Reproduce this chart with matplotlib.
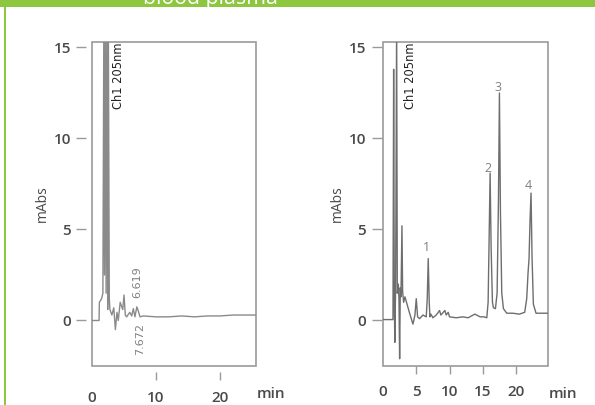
import matplotlib
matplotlib.use("Agg")
import matplotlib.pyplot as plt
from matplotlib.patches import Rectangle

# chromatogram traces (time in min, signal in mAbs)
left_t = [0, 1.1, 1.15, 1.5, 1.7, 1.85, 1.95, 2.1, 2.2, 2.35, 2.45, 2.55, 2.7, 2.8,
          3.1, 3.4, 3.65, 3.9, 4.1, 4.4, 4.8, 5.0, 5.2, 5.4, 5.9, 6.2, 6.45, 6.7,
          7.0, 7.2, 7.5, 8.0, 10, 12, 14, 16, 18, 20, 22, 24, 25.6]
left_v = [0, 0, 1.0, 1.2, 1.5, 16.5, 2.5, 16.5, 1.5, 16.5, 0.6, 16.5, 1.2, 0.6,
          0.3, 0.7, -0.5, 0.45, 0.0, 1.0, 0.6, 1.4, 0.3, 0.2, 0.45, 0.25, 0.65, 0.2,
          0.75, 0.55, 0.2, 0.25, 0.2, 0.2, 0.25, 0.2, 0.25, 0.25, 0.3, 0.3, 0.3]

right_t = [0, 1.5, 1.6, 1.7, 1.78, 1.9, 2.05, 2.15, 2.3, 2.4, 2.5, 2.6, 2.7, 2.85,
           2.95, 3.1, 3.3, 4.0, 4.5, 4.8, 5.0, 5.2, 5.5, 6.0, 6.5, 6.65, 6.8, 6.95,
           7.05, 7.2, 7.5, 8.0, 8.5, 8.7, 9.3, 9.5, 9.8, 10.0, 11, 12, 12.8, 13.3,
           13.8, 14.6, 15.2, 15.6, 15.8, 15.95, 16.1, 16.25, 16.45, 16.6, 16.9,
           17.15, 17.35, 17.5, 17.65, 17.85, 18.1, 18.6, 19.5, 20.5, 21.3, 21.6,
           21.8, 21.95, 22.1, 22.25, 22.4, 22.6, 23.0, 24, 24.8]
right_v = [0.05, 0.05, 13.8, 1.0, -1.2, 2.0, 16.5, 1.5, 2.0, 1.2, -2.1, 1.8, 1.3, 5.2,
           1.6, 1.0, 1.3, 0.4, -0.2, 0.3, 1.2, 0.2, 0.1, 0.3, 0.2, 1.2, 3.4, 1.0,
           0.2, 0.35, 0.15, 0.3, 0.55, 0.3, 0.55, 0.3, 0.45, 0.2, 0.15, 0.2, 0.15, 0.25,
           0.35, 0.2, 0.2, 0.15, 1.0, 4.5, 8.1, 4.0, 1.0, 0.7, 0.65,
           1.5, 6.5, 12.5, 6.0, 1.5, 0.65, 0.4, 0.4, 0.35, 0.45, 1.2,
           2.6, 3.4, 5.5, 7.0, 3.5, 0.9, 0.4, 0.4, 0.4]

left_xticks = [0, 10, 20]
right_xticks = [0, 5, 10, 15, 20]
yticks = [0, 5, 10, 15]

left_marks = [("6.619", 7.0, 2.1), ("7.672", 7.5, -1.0)]
right_marks = [("1", 6.6, 4.0), ("2", 15.8, 8.35), ("3", 17.3, 12.8), ("4", 21.8, 7.4)]

GREEN = "#8dc63f"
FRAME = "#9a9a9a"
LABEL = "#4a4a4a"

fig = plt.figure(figsize=(5.95, 4.05), dpi=100)
fig.patch.set_facecolor("white")

# green header bar and left rule
fig.patches.append(Rectangle((0, 1 - 7 / 405), 1, 7 / 405, transform=fig.transFigure,
                             facecolor=GREEN, edgecolor="none"))
fig.patches.append(Rectangle((4 / 595, 0), 2 / 595, 1, transform=fig.transFigure,
                             facecolor=GREEN, edgecolor="none"))
fig.text(143 / 595, 1 - 4 / 405, "blood plasma", color="white", fontsize=15.3,
         family="Open Sans", ha="left", va="baseline")


def setup(ax, xmax, xticks, yoff, xoff):
    ax.set_xlim(0, xmax)
    ax.set_ylim(-2.5, 15.3)
    for s in ax.spines.values():
        s.set_visible(False)
    ax.spines["left"].set_position(("outward", yoff))
    ax.spines["bottom"].set_position(("outward", xoff))
    ax.add_patch(Rectangle((0, 0), 1, 1, transform=ax.transAxes, fill=False,
                           edgecolor=FRAME, linewidth=1.2, clip_on=False))
    ax.set_xticks(xticks)
    ax.set_yticks(yticks)
    ax.tick_params(direction="out", length=7, width=1, color=FRAME,
                   labelcolor=LABEL, labelsize=11, pad=4)
    ax.tick_params(axis="x", length=6, pad=8)
    ax.xaxis.get_major_ticks()[0].tick1line.set_visible(False)
    for lab in ax.get_xticklabels() + ax.get_yticklabels():
        lab.set_family("Open Sans")
        lab.set_weight("semibold")
    ax.set_ylabel("mAbs", fontsize=10, color=LABEL, family="Open Sans", labelpad=3)
    ax.text(1.09, -0.085, "min", transform=ax.transAxes, fontsize=11, color=LABEL,
            family="Open Sans", weight="semibold", ha="center", va="center")
    ax.text(4.1, 15.25, "Ch1 205nm", rotation=90, ha="center", va="top", fontsize=8.3,
            color="#222222", family="DejaVu Sans")


ax1 = fig.add_axes([92 / 595, 1 - 366 / 405, 164 / 595, 324 / 405])
setup(ax1, 25.6, left_xticks, 4, 4)
ax1.plot(left_t, left_v, color="#8a8a8a", linewidth=1.0)
for txt, x, y in left_marks:
    ax1.text(x, y, txt, rotation=90, ha="center", va="center", fontsize=8,
             color="#808080", family="DejaVu Sans")

ax2 = fig.add_axes([383 / 595, 1 - 366 / 405, 165 / 595, 324 / 405])
setup(ax2, 24.8, right_xticks, 1, 0)
ax2.plot(right_t, right_v, color="#6e6e6e", linewidth=1.0)
for txt, x, y in right_marks:
    ax2.text(x, y, txt, ha="center", va="center", fontsize=9, color="#808080",
             family="Open Sans")

fig.savefig("out.png", dpi=100)
